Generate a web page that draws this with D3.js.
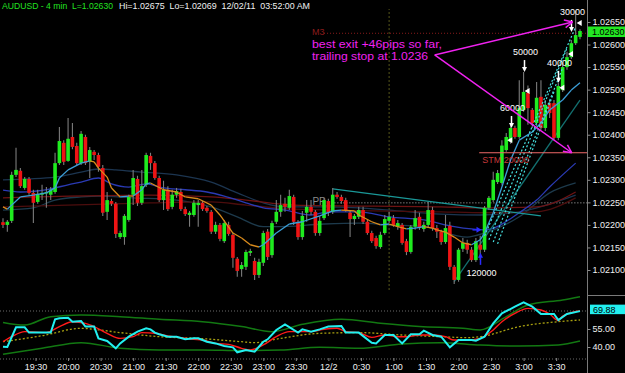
<!DOCTYPE html>
<html>
<head>
<meta charset="utf-8">
<script src="https://cdn.jsdelivr.net/npm/d3@7"></script>
<style>
  body { margin: 0; background: #000; }
  svg { display: block; font-family: "Liberation Sans", Arial, sans-serif; }
</style>
</head>
<body>
<script>
// AUDUSD 4 min candles, 19:00 (12/1) .. 03:52 (12/2)
var opens = [1.02206,1.02200,1.02209,1.02311,1.02320,1.02282,1.02302,1.02271,1.02251,1.02267,
  1.02271,1.02267,1.02273,1.02337,1.02382,1.02342,1.02395,1.02375,1.02337,1.02395,
  1.02340,1.02362,1.02355,1.02326,1.02229,1.02253,1.02247,1.02173,1.02173,1.02211,
  1.02267,1.02302,1.02249,1.02289,1.02353,1.02337,1.02304,1.02255,1.02278,1.02240,
  1.02267,1.02273,1.02235,1.02222,1.02222,1.02244,1.02249,1.02238,1.02229,1.02185,
  1.02200,1.02164,1.02200,1.02178,1.02125,1.02102,1.02107,1.02138,1.02120,1.02089,
  1.02116,1.02185,1.02133,1.02207,1.02229,1.02247,1.02238,1.02262,1.02207,1.02173,
  1.02227,1.02240,1.02229,1.02182,1.02215,1.02253,1.02229,1.02267,1.02262,1.02255,
  1.02227,1.02213,1.02218,1.02233,1.02207,1.02182,1.02171,1.02151,1.02182,1.02209,
  1.02215,1.02196,1.02200,1.02164,1.02140,1.02196,1.02218,1.02191,1.02200,1.02233,
  1.02193,1.02185,1.02162,1.02198,1.02107,1.02078,1.02147,1.02160,1.02145,1.02122,
  1.02156,1.02145,1.02238,1.02255,1.02295,1.02293,1.02366,1.02384,1.02415,1.02395,
  1.02455,1.02493,1.02455,1.02426,1.02484,1.02415,1.02470,1.02470,1.02393,1.02499,
  1.02550,1.02572,1.02603,1.02617];
var highs = [1.02215,1.02211,1.02318,1.02371,1.02326,1.02306,1.02306,1.02278,1.02278,1.02289,
  1.02284,1.02284,1.02360,1.02417,1.02388,1.02437,1.02426,1.02382,1.02408,1.02400,
  1.02373,1.02366,1.02360,1.02333,1.02273,1.02258,1.02251,1.02187,1.02224,1.02267,
  1.02322,1.02309,1.02322,1.02360,1.02360,1.02342,1.02309,1.02298,1.02286,1.02278,
  1.02282,1.02280,1.02240,1.02231,1.02255,1.02255,1.02253,1.02242,1.02233,1.02207,
  1.02204,1.02211,1.02207,1.02182,1.02129,1.02118,1.02145,1.02147,1.02127,1.02125,
  1.02187,1.02191,1.02209,1.02255,1.02267,1.02260,1.02278,1.02267,1.02211,1.02231,
  1.02255,1.02255,1.02233,1.02220,1.02260,1.02258,1.02282,1.02273,1.02267,1.02260,
  1.02231,1.02224,1.02240,1.02240,1.02211,1.02187,1.02176,1.02185,1.02222,1.02229,
  1.02222,1.02211,1.02204,1.02169,1.02200,1.02233,1.02227,1.02207,1.02251,1.02240,
  1.02200,1.02189,1.02222,1.02207,1.02111,1.02149,1.02171,1.02167,1.02151,1.02171,
  1.02176,1.02242,1.02264,1.02318,1.02322,1.02388,1.02404,1.02422,1.02420,1.02521,
  1.02539,1.02509,1.02459,1.02517,1.02521,1.02477,1.02477,1.02477,1.02515,1.02561,
  1.02584,1.02610,1.02675,1.02634];
var lows = [1.02193,1.02185,1.02204,1.02306,1.02282,1.02278,1.02267,1.02204,1.02247,1.02255,
  1.02238,1.02255,1.02269,1.02333,1.02333,1.02340,1.02368,1.02333,1.02333,1.02333,
  1.02304,1.02344,1.02318,1.02220,1.02211,1.02242,1.02171,1.02169,1.02156,1.02207,
  1.02244,1.02242,1.02244,1.02284,1.02322,1.02300,1.02251,1.02233,1.02231,1.02235,
  1.02260,1.02231,1.02220,1.02196,1.02218,1.02196,1.02231,1.02227,1.02180,1.02180,
  1.02164,1.02160,1.02176,1.02105,1.02085,1.02085,1.02100,1.02131,1.02078,1.02082,
  1.02109,1.02122,1.02127,1.02202,1.02218,1.02229,1.02233,1.02200,1.02167,1.02167,
  1.02207,1.02222,1.02176,1.02176,1.02211,1.02220,1.02224,1.02258,1.02247,1.02229,
  1.02173,1.02200,1.02213,1.02202,1.02178,1.02160,1.02147,1.02147,1.02178,1.02204,
  1.02196,1.02189,1.02156,1.02133,1.02136,1.02189,1.02189,1.02185,1.02193,1.02187,
  1.02171,1.02156,1.02158,1.02100,1.02069,1.02074,1.02140,1.02136,1.02118,1.02118,
  1.02122,1.02140,1.02233,1.02251,1.02291,1.02289,1.02362,1.02380,1.02391,1.02391,
  1.02451,1.02422,1.02415,1.02420,1.02411,1.02408,1.02437,1.02388,1.02388,1.02495,
  1.02544,1.02568,1.02599,1.02612];
var closes = [1.02200,1.02207,1.02311,1.02322,1.02286,1.02302,1.02271,1.02249,1.02269,1.02271,
  1.02273,1.02278,1.02337,1.02386,1.02340,1.02391,1.02373,1.02337,1.02402,1.02337,
  1.02366,1.02355,1.02329,1.02227,1.02255,1.02247,1.02180,1.02182,1.02220,1.02262,
  1.02304,1.02249,1.02286,1.02355,1.02337,1.02304,1.02255,1.02278,1.02235,1.02267,
  1.02275,1.02235,1.02224,1.02227,1.02249,1.02249,1.02235,1.02231,1.02185,1.02200,
  1.02169,1.02204,1.02180,1.02127,1.02098,1.02111,1.02140,1.02142,1.02089,1.02118,
  1.02182,1.02129,1.02204,1.02229,1.02244,1.02240,1.02264,1.02207,1.02173,1.02220,
  1.02240,1.02229,1.02182,1.02209,1.02255,1.02227,1.02267,1.02262,1.02253,1.02233,
  1.02213,1.02220,1.02233,1.02207,1.02182,1.02164,1.02153,1.02178,1.02213,1.02218,
  1.02200,1.02204,1.02160,1.02140,1.02196,1.02215,1.02193,1.02200,1.02233,1.02193,
  1.02185,1.02162,1.02193,1.02107,1.02078,1.02145,1.02160,1.02145,1.02122,1.02164,
  1.02145,1.02238,1.02260,1.02300,1.02315,1.02376,1.02395,1.02415,1.02395,1.02459,
  1.02495,1.02459,1.02426,1.02482,1.02415,1.02466,1.02448,1.02393,1.02508,1.02550,
  1.02572,1.02603,1.02621,1.02630];

// moving averages on the price panel (bar index, price)
var fastBar = [0,1,4,7,10,12,13,15,18,20,21,22,24,25,27,29,30,32,33,34,37,40,42,45,48,50,53,55,57,59,60,63,
  66,69,73,76,78,81,82,85,87,89,91,93,95,97,99,100,102,104,106,108,110,111,113,115,117,119,122,124,126,129,131,133];
var fastMa = [1.02240,1.02235,1.02262,1.02266,1.02271,1.02282,1.02304,1.02322,1.02337,1.02342,1.02340,1.02326,
  1.02306,1.02282,1.02262,1.02264,1.02264,1.02278,1.02291,1.02293,1.02278,1.02273,1.02262,1.02258,1.02244,
  1.02222,1.02182,1.02171,1.02156,1.02151,1.02156,1.02182,1.02202,1.02207,1.02220,1.02231,1.02233,1.02231,
  1.02222,1.02207,1.02200,1.02202,1.02196,1.02191,1.02193,1.02196,1.02193,1.02189,1.02184,1.02173,1.02160,
  1.02156,1.02167,1.02182,1.02227,1.02284,1.02344,1.02388,1.02406,1.02426,1.02455,1.02477,1.02499,1.02515];
var blueBar = [0,4,11,15,18,22,25,29,33,37,42,47,51,56,60,65,71,75,82,89,97,104,111,119,123,126,132];
var blueMa = [1.02277,1.02273,1.02280,1.02289,1.02295,1.02304,1.02291,1.02284,1.02291,1.02282,1.02278,1.02273,
  1.02264,1.02249,1.02238,1.02233,1.02222,1.02229,1.02229,1.02218,1.02211,1.02196,1.02189,1.02227,1.02255,
  1.02284,1.02337];
var navyBar = [0,6,12,18,22,26,32,40,48,54,60,65,74,82,89,101,110,119,132];
var navyMa = [1.02300,1.02302,1.02306,1.02317,1.02324,1.02322,1.02317,1.02311,1.02295,1.02271,1.02249,1.02240,
  1.02240,1.02238,1.02233,1.02224,1.02222,1.02229,1.02266];
var slateBar = [0,7,12,18,22,30,40,48,54,60,63,74,82,89,97,107,111,119,126,132];
var slateMa = [1.02233,1.02238,1.02255,1.02262,1.02264,1.02260,1.02255,1.02240,1.02218,1.02196,1.02196,1.02202,
  1.02204,1.02200,1.02196,1.02173,1.02182,1.02218,1.02271,1.02293];
var redBar = [0,34,48,56,67,101,111,123,132];
var redMaA = [1.02260,1.02266,1.02262,1.02255,1.02244,1.02240,1.02238,1.02240,1.02273];
var redMaB = [1.02240,1.02249,1.02251,1.02244,1.02235,1.02229,1.02227,1.02229,1.02260];

// trend lines (start/end bar, start/end price)
var trendBars = [[76,124],[104,133]];
var trendPrices = [[1.02280,1.02220],[1.02074,1.02477]];
var fanBars = [[111,132],[112,130],[113,129],[114,127]];
var fanPrices = [[1.02176,1.02639],[1.02167,1.02592],[1.02162,1.02548],[1.02158,1.02495]];

// levels
var pivotPP = 1.0225, pivotM3 = 1.02625, stopLevel = 1.0236;
var ppFrom = 75, m3From = 74, stopFrom = 110;

// trade marks
var sellBars = [117,120,128,131];
var sellPrices = [1.02415,1.02539,1.02515,1.02628];
var sellLabels = ["60000","50000","40000","30000"];
var exitBars = [116,120,128,130,132];
var exitPrices = [1.02388,1.02497,1.02504,1.02579,1.02648];
var buyBar = 110, buyPrice = 1.02138, buyLabel = "120000", alertPrice = 1.02189;

// lower panel oscillator (bar index, value)
var rsiBar = [0,1,3,5,6,11,12,13,15,16,18,19,21,22,24,26,27,29,31,33,34,35,36,38,40,42,44,45,47,49,51,53,54,56,58,
  60,61,63,65,68,69,71,73,75,78,79,82,85,86,88,90,92,94,96,97,99,101,103,105,108,109,111,113,115,118,120,122,124,127,128,130,133];
var rsi = [40.3,40,56.4,56.4,52,52,63,63.9,64.4,61,61.7,57,57,47.2,45,38.9,43,48.6,52.8,55.6,54.7,52,50.6,48.6,48.6,
  46.4,47.2,47.2,44.4,43,40.8,39.7,35.6,37.5,36.1,44.4,46.4,54.2,58.9,52,54.7,52.8,54.7,57,57.5,52,52,43.6,43,50,50,
  43,50.6,50.6,53.6,50,48.6,39.7,45.8,45.8,45.3,48.6,59.7,68,73.6,77.2,73.6,67.5,67.5,62.5,67.5,69.88];
var sigBar = [0,2,5,10,13,16,19,21,24,27,30,32,35,38,41,44,46,49,52,55,57,60,63,66,68,71,74,77,79,82,85,88,91,93,96,
  99,102,104,107,110,113,115,118,121,124,126,128,129,133];
var sig = [44.4,48.6,52.8,52,57,61.1,59.7,57,51.4,47.2,48.6,52,51.4,49.2,47.8,46.4,45.8,43,42.2,38.9,37.5,41.7,48.6,
  52.8,52.8,52.8,54.7,55.6,52.8,52,48,50,48.6,48.6,50,50,48.6,45.8,45.8,47.2,54.2,61.1,68,72.2,70.8,67.5,62,65.8,70.3];
var avgBar = [0,9,18,21,27,36,45,55,58,64,73,82,92,101,107,110,119,128,133];
var avg = [44.4,49.4,55.6,54.7,52,48.6,47.2,44.4,43.6,47.2,51.4,52,50,48.6,47.8,48.6,57,61.1,62.5];
var upBar = [0,5,11,18,27,36,46,55,62,69,78,87,96,106,110,116,121,129,133];
var upBand = [60.5,58.3,65.3,66.7,65.3,63.1,61.1,57,52.8,58.9,63.1,59.7,57,55.6,54.2,65.3,75,79.2,81.9];
var loBar = [0,9,18,27,36,46,55,64,73,82,92,101,110,119,128,133];
var loBand = [33.9,38.9,43.6,38.9,37.5,37.5,37,37.5,39.7,38.9,42.5,43.6,41.7,40.8,41.7,45];

var priceTicks = [1.021,1.0215,1.022,1.0225,1.023,1.0235,1.024,1.0245,1.025,1.0255,1.026,1.0265];
var oscTicks = [40, 55];

var width = 625, height = 373, axisX = 587;
var n = opens.length;
var t0 = new Date(2011, 11, 1, 19, 0);

var xTime = d3.scaleTime()
  .domain([t0, d3.timeMinute.offset(t0, 4 * (n - 1))])
  .range([3, 580]);
var xBar = d3.scaleLinear().domain([0, n - 1]).range(xTime.range());
var yP = d3.scaleLinear().domain([1.021, 1.0265]).range([270, 22]);
var yO = d3.scaleLinear().domain([40, 55]).range([347, 329]);

var svg = d3.select("body").append("svg")
  .attr("width", width)
  .attr("height", height);
svg.append("rect").attr("width", width).attr("height", height).attr("fill", "#000");

var defs = svg.append("defs");
defs.append("clipPath").attr("id", "pclip").append("rect")
  .attr("x", 0).attr("y", 9).attr("width", axisX).attr("height", 287);
defs.append("clipPath").attr("id", "oclip").append("rect")
  .attr("x", 0).attr("y", 296).attr("width", axisX).attr("height", 64);

var price = svg.append("g").attr("clip-path", "url(#pclip)");
var osc = svg.append("g").attr("clip-path", "url(#oclip)");

function pairs(bars, vals) { return bars.map(function(b, i) { return [b, vals[i]]; }); }

var priceLine = d3.line()
  .x(function(d) { return xBar(d[0]); })
  .y(function(d) { return yP(d[1]); })
  .curve(d3.curveMonotoneX);
var oscLine = d3.line()
  .x(function(d) { return xBar(d[0]); })
  .y(function(d) { return yO(d[1]); });

// session separator
var sep = xTime(new Date(2011, 11, 2, 0, 56));
price.append("line")
  .attr("x1", sep).attr("x2", sep).attr("y1", 0).attr("y2", 292)
  .attr("stroke", "#56561a").attr("stroke-dasharray", "2,2");

// pivot levels
price.append("line")
  .attr("x1", xBar(m3From)).attr("x2", axisX).attr("y1", yP(pivotM3)).attr("y2", yP(pivotM3))
  .attr("stroke", "#8c1c1c").attr("stroke-dasharray", "1,2");
price.append("text").attr("x", xBar(m3From) - 12).attr("y", yP(pivotM3) + 1.5)
  .attr("fill", "#8c1c1c").attr("font-size", 9).text("M3");
price.append("line")
  .attr("x1", xBar(ppFrom)).attr("x2", axisX).attr("y1", yP(pivotPP) + 0.5).attr("y2", yP(pivotPP) + 0.5)
  .attr("stroke", "#b8b8b8").attr("stroke-dasharray", "1,2");
price.append("text").attr("x", xBar(ppFrom) - 16).attr("y", yP(pivotPP) + 3)
  .attr("fill", "#8a8a8a").attr("font-size", 10).text("PP");

// slow moving averages
var slow = [
  [navyBar, navyMa, "#1c3550"],
  [slateBar, slateMa, "#1d3a4c"],
  [redBar, redMaA, "#6e1313"],
  [redBar, redMaB, "#4c0d0d"],
  [blueBar, blueMa, "#2a3ab4"]
];
slow.forEach(function(s) {
  price.append("path")
    .attr("d", priceLine(pairs(s[0], s[1])))
    .attr("fill", "none").attr("stroke", s[2]).attr("stroke-width", 1.3);
});

// trend lines
trendBars.forEach(function(b, i) {
  price.append("line")
    .attr("x1", xBar(b[0])).attr("y1", yP(trendPrices[i][0]))
    .attr("x2", xBar(b[1])).attr("y2", yP(trendPrices[i][1]))
    .attr("stroke", i == 0 ? "#1a9898" : "#137070").attr("stroke-width", 1.3);
});

// candles
var candles = d3.range(n).map(function(i) {
  return { i: i, o: opens[i], h: highs[i], l: lows[i], c: closes[i] };
});
price.selectAll("line.wick")
  .data(candles)
  .enter().append("line")
  .attr("x1", function(d) { return xBar(d.i); })
  .attr("x2", function(d) { return xBar(d.i); })
  .attr("y1", function(d) { return yP(d.h); })
  .attr("y2", function(d) { return yP(d.l); })
  .attr("stroke", "#7c7c7c").attr("stroke-width", 1.1);
price.selectAll("rect.body")
  .data(candles)
  .enter().append("rect")
  .attr("x", function(d) { return xBar(d.i) - 1.8; })
  .attr("width", 3.6)
  .attr("y", function(d) { return yP(Math.max(d.o, d.c)); })
  .attr("height", function(d) { return Math.max(1.5, yP(Math.min(d.o, d.c)) - yP(Math.max(d.o, d.c))); })
  .attr("fill", function(d) { return d.c >= d.o ? "#1fec1f" : "#ee1414"; });

// fast average, coloured by slope
var fast = pairs(fastBar, fastMa);
price.selectAll("line.fast")
  .data(fast.slice(1))
  .enter().append("line")
  .attr("x1", function(d, i) { return xBar(fast[i][0]); })
  .attr("y1", function(d, i) { return yP(fast[i][1]); })
  .attr("x2", function(d) { return xBar(d[0]); })
  .attr("y2", function(d) { return yP(d[1]); })
  .attr("stroke", function(d, i) { return d[1] > fast[i][1] ? "#3c9fd8" : "#d98b1c"; })
  .attr("stroke-width", 1.3);

// dotted channel fan
fanBars.forEach(function(b, i) {
  price.append("line")
    .attr("x1", xBar(b[0])).attr("y1", yP(fanPrices[i][0]))
    .attr("x2", xBar(b[1])).attr("y2", yP(fanPrices[i][1]))
    .attr("stroke", "#45dede").attr("stroke-width", 1.2).attr("stroke-dasharray", "2,2");
});

// trailing stop
price.append("line")
  .attr("x1", xBar(stopFrom) - 1).attr("x2", axisX)
  .attr("y1", yP(stopLevel)).attr("y2", yP(stopLevel))
  .attr("stroke", "#f06868");
price.append("text").attr("x", xBar(stopFrom) + 2).attr("y", yP(stopLevel) + 10)
  .attr("fill", "#c83a3a").attr("font-size", 9).text("STM 20000");

// sell arrows with sizes
sellBars.forEach(function(b, i) {
  var x = Math.round(xBar(b)) + 0.5, tip = yP(sellPrices[i]);
  price.append("line").attr("x1", x).attr("x2", x).attr("y1", tip - 12).attr("y2", tip - 4)
    .attr("stroke", "#fff").attr("stroke-width", 1.5);
  price.append("path")
    .attr("d", "M" + (x - 2.5) + "," + (tip - 5) + "L" + (x + 2.5) + "," + (tip - 5) + "L" + x + "," + tip + "Z")
    .attr("fill", "#fff");
  price.append("text").attr("x", x + 1).attr("y", tip - 17)
    .attr("text-anchor", "middle").attr("fill", "#fff").attr("font-size", 9).text(sellLabels[i]);
});
exitBars.forEach(function(b, i) {
  var x = xBar(b) + 1, y = yP(exitPrices[i]);
  price.append("path")
    .attr("d", "M" + x + "," + y + "L" + (x + 5) + "," + (y - 3) + "L" + (x + 5) + "," + (y + 3) + "Z")
    .attr("fill", "#fff");
});

// buy arrow
var bx = Math.round(xBar(buyBar)) + 0.5, by = yP(buyPrice);
price.append("line").attr("x1", bx).attr("x2", bx).attr("y1", by + 4).attr("y2", by + 12)
  .attr("stroke", "#2a2aff").attr("stroke-width", 1.5);
price.append("path")
  .attr("d", "M" + (bx - 2.5) + "," + (by + 5) + "L" + (bx + 2.5) + "," + (by + 5) + "L" + bx + "," + by + "Z")
  .attr("fill", "#2a2aff");
price.append("text").attr("x", bx + 1).attr("y", by + 23)
  .attr("text-anchor", "middle").attr("fill", "#fff").attr("font-size", 9).text(buyLabel);
var ay = yP(alertPrice);
price.append("line").attr("x1", bx - 8).attr("x2", bx - 3).attr("y1", ay).attr("y2", ay)
  .attr("stroke", "#2a2aff").attr("stroke-width", 1.5);
price.append("path")
  .attr("d", "M" + (bx - 4) + "," + (ay - 3) + "L" + (bx + 1) + "," + ay + "L" + (bx - 4) + "," + (ay + 3) + "Z")
  .attr("fill", "#2a2aff");

// note in magenta
var mag = "#f022f0";
var vx = xBar(99.5), vy = yP(1.02577);
var tips = [[xBar(131.3), yP(1.0265)], [xBar(131.1), yP(stopLevel)]];
tips.forEach(function(t) {
  price.append("line").attr("x1", vx).attr("y1", vy).attr("x2", t[0]).attr("y2", t[1])
    .attr("stroke", mag).attr("stroke-width", 1.5);
  var a = Math.atan2(t[1] - vy, t[0] - vx);
  [0.45, -0.45].forEach(function(da) {
    price.append("line").attr("x1", t[0]).attr("y1", t[1])
      .attr("x2", t[0] - 9 * Math.cos(a + da)).attr("y2", t[1] - 9 * Math.sin(a + da))
      .attr("stroke", mag).attr("stroke-width", 1.5);
  });
});
price.append("text").attr("x", 312).attr("y", 47.5).attr("fill", mag).attr("font-size", 11.5)
  .attr("textLength", 130).attr("lengthAdjust", "spacingAndGlyphs").text("best exit +46pips so far,");
price.append("text").attr("x", 312).attr("y", 60).attr("fill", mag).attr("font-size", 11.5)
  .attr("textLength", 116).attr("lengthAdjust", "spacingAndGlyphs").text("trailing stop at 1.0236");

// lower panel
[70, 30].forEach(function(v) {
  osc.append("line").attr("x1", 0).attr("x2", axisX).attr("y1", yO(v)).attr("y2", yO(v))
    .attr("stroke", "#6a6a6a").attr("stroke-dasharray", "1,2");
});
osc.append("path").attr("d", oscLine.curve(d3.curveMonotoneX)(pairs(upBar, upBand)))
  .attr("fill", "none").attr("stroke", "#127812").attr("stroke-width", 1.5);
osc.append("path").attr("d", oscLine(pairs(loBar, loBand)))
  .attr("fill", "none").attr("stroke", "#127812").attr("stroke-width", 1.5);
osc.append("path").attr("d", oscLine(pairs(avgBar, avg)))
  .attr("fill", "none").attr("stroke", "#a8a010").attr("stroke-width", 1.3).attr("stroke-dasharray", "2,2");
osc.append("path").attr("d", oscLine(pairs(sigBar, sig)))
  .attr("fill", "none").attr("stroke", "#ff1a1a").attr("stroke-width", 1.4);
osc.append("path").attr("d", oscLine.curve(d3.curveLinear)(pairs(rsiBar, rsi)))
  .attr("fill", "none").attr("stroke", "#22f0f0").attr("stroke-width", 2);

// axes
svg.append("line").attr("x1", axisX + 0.5).attr("x2", axisX + 0.5).attr("y1", 0).attr("y2", height)
  .attr("stroke", "#7a7a7a");
svg.append("line").attr("x1", axisX).attr("x2", width).attr("y1", 295.5).attr("y2", 295.5)
  .attr("stroke", "#7a7a7a");

function styleAxis(g) {
  g.select(".domain").remove();
  g.selectAll("line").attr("stroke", "#8a8a8a");
  g.selectAll("text").attr("fill", "#f0f0f0").attr("font-size", 9).attr("font-family", null);
}
svg.append("g").attr("transform", "translate(" + (axisX + 0.5) + ",0)")
  .call(d3.axisRight(yP).tickValues(priceTicks).tickFormat(d3.format(".5f")).tickSize(3).tickPadding(2))
  .call(styleAxis);
svg.append("g").attr("transform", "translate(" + (axisX + 0.5) + ",0)")
  .call(d3.axisRight(yO).tickValues(oscTicks).tickFormat(d3.format(".2f")).tickSize(3).tickPadding(2))
  .call(styleAxis);

var timeTicks = d3.timeMinute.every(30).range(new Date(2011, 11, 1, 19, 30), new Date(2011, 11, 2, 3, 31));
var fmtHM = d3.timeFormat("%-H:%M"), fmtDay = d3.timeFormat("%-m/%-d");
svg.append("g").attr("transform", "translate(0,358)")
  .call(d3.axisBottom(xTime).tickValues(timeTicks).tickSize(3).tickPadding(3)
    .tickFormat(function(d) { return d.getHours() == 0 && d.getMinutes() == 0 ? fmtDay(d) : fmtHM(d); }))
  .call(styleAxis);

// last value boxes
var last = closes[n - 1];
var ly = yP(last);
svg.append("rect").attr("x", axisX + 1).attr("y", ly - 4.5).attr("width", width - axisX - 1).attr("height", 10.5)
  .attr("fill", "#22e822");
svg.append("text").attr("x", axisX + 5).attr("y", ly + 4).attr("fill", "#000").attr("font-size", 9)
  .text(d3.format(".5f")(last));
var lo = rsi[rsi.length - 1], lyo = yO(lo) - 2;
svg.append("rect").attr("x", axisX + 3).attr("y", lyo - 4.5).attr("width", width - axisX - 3).attr("height", 9.5)
  .attr("fill", "#22f0f0");
svg.append("text").attr("x", axisX + 6).attr("y", lyo + 3.5).attr("fill", "#000").attr("font-size", 9)
  .text(d3.format(".2f")(lo));

// header
svg.append("text").attr("x", 2).attr("y", 9).attr("fill", "#22e022").attr("font-size", 9)
  .style("white-space", "pre").attr("textLength", 111).attr("lengthAdjust", "spacingAndGlyphs")
  .text("AUDUSD - 4 min  L=" + d3.format(".5f")(last));
svg.append("text").attr("x", 119).attr("y", 9).attr("fill", "#f0f0f0").attr("font-size", 9)
  .style("white-space", "pre").attr("textLength", 191).attr("lengthAdjust", "spacingAndGlyphs")
  .text("Hi=" + d3.format(".5f")(d3.max(highs)) + "  Lo=" + d3.format(".5f")(d3.min(lows)) + "  12/02/11  03:52:00 AM");
</script>
</body>
</html>
